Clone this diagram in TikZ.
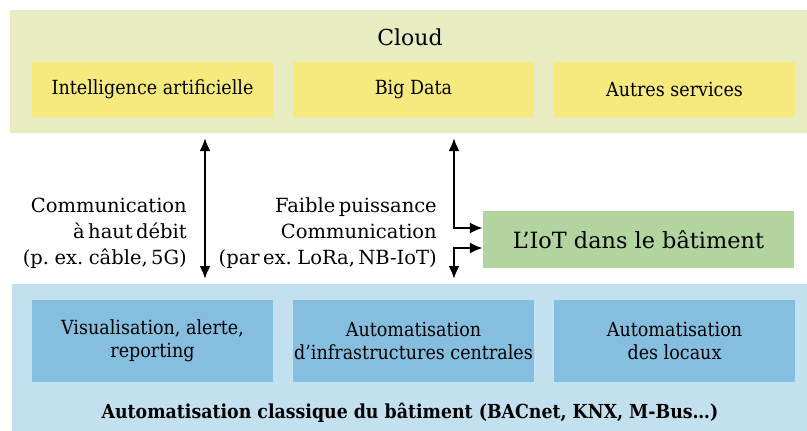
\documentclass[tikz,border=0pt]{standalone}
\usepackage{fontspec}
\setmainfont{DejaVu Serif}
\newfontfamily\condfont{DejaVu Serif Condensed}
\newfontfamily\lblfont[WordSpace=0.55]{DejaVu Serif}
\usetikzlibrary{arrows.meta}
\definecolor{cloudbg}{HTML}{E9ECC1}
\definecolor{yellowbox}{HTML}{F6EA7F}
\definecolor{greenbox}{HTML}{B2D5A0}
\definecolor{bluebg}{HTML}{C3E0F0}
\definecolor{bluebox}{HTML}{86BEE0}
\tikzset{
  ybox/.style={fill=yellowbox, minimum width=241pt, minimum height=55pt, inner sep=0pt, font=\condfont\fontsize{19.5}{23}\selectfont, align=center},
  bbox/.style={fill=bluebox, minimum width=241pt, minimum height=82pt, inner sep=0pt, font=\condfont\fontsize{19.5}{23}\selectfont, align=center},
  lbl/.style={align=right, anchor=east, font=\lblfont\fontsize{19.5}{26}\selectfont, inner sep=0pt},
  conn/.style={line width=2.2pt, {Latex[length=13pt,width=11pt]}-{Latex[length=13pt,width=11pt]}}
}
\begin{document}
\begin{tikzpicture}[x=1pt,y=-1pt]
\useasboundingbox (0,0) rectangle (807,431);
% bands
\fill[cloudbg] (10,10) rectangle (807,133);
\fill[bluebg] (12,284) rectangle (807,431);
\node[font=\fontsize{22}{24}\selectfont] (cloud) at (410,37) {Cloud};
\node[ybox] (ai) at (152.5,89.5) {Intelligence artificielle};
\node[ybox] (bd) at (413.5,89.5) {Big Data};
\node[ybox] (as) at (674.5,89.5) {Autres services};
\node[bbox] (vis) at (152.5,341) {Visualisation, alerte,\\reporting};
\node[bbox] (aic) at (413.5,341) {Automatisation\\d’infrastructures centrales};
\node[bbox] (adl) at (674.5,341) {Automatisation\\des locaux};
\node[font=\condfont\bfseries\fontsize{19.3}{22}\selectfont] (classic) at (410,413) {Automatisation classique du bâtiment (BACnet, KNX, M-Bus…)};
\node[fill=greenbox, minimum width=311pt, minimum height=57pt, inner sep=0pt, font=\fontsize{22.4}{26}\selectfont] (iot) at (638.5,239.5) {L’IoT dans le bâtiment};
% labels
\node[lbl] (l1) at (187,233) {Communication\\à haut débit\\(p. ex. câble, 5G)};
\node[lbl] (l2) at (437,233) {Faible puissance\\Communication\\(par ex. LoRa, NB-IoT)};
% connectors
\coordinate (a1t) at (205,138);
\coordinate (a1b) at (205,279);
\draw[conn] (a1t) -- (a1b);
\coordinate (a2t) at (454,138);
\coordinate (a3b) at (454,279);
\draw[conn] (a2t) -- (454,228) -- (iot.west |- 0,228);
\draw[conn] (a3b) -- (454,248) -- (iot.west |- 0,248);
\end{tikzpicture}
\end{document}
